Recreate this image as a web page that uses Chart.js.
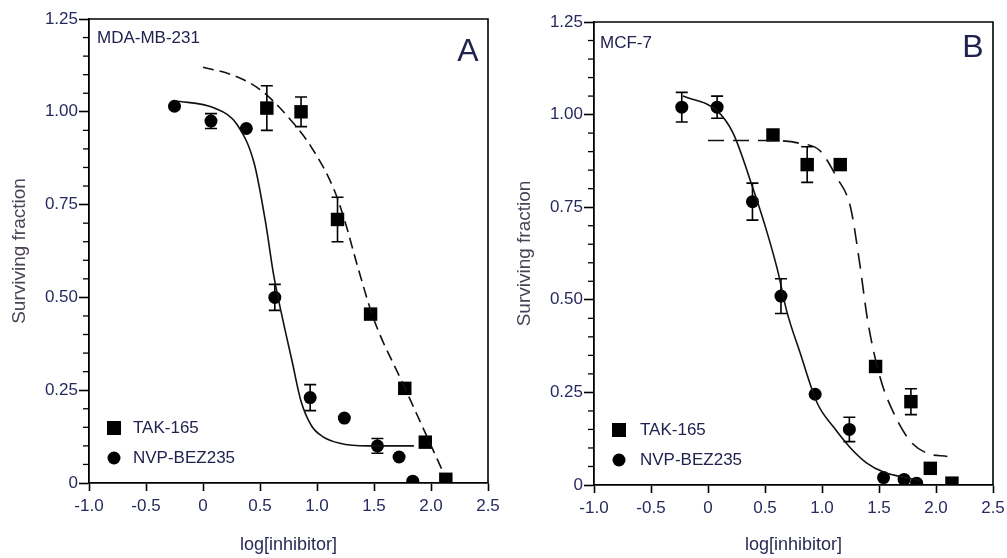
<!DOCTYPE html>
<html>
<head>
<meta charset="utf-8">
<script src="https://cdn.jsdelivr.net/npm/chart.js@4.4.1/dist/chart.umd.min.js"></script>
<style>
  html, body { margin: 0; padding: 0; background: #fff; overflow: hidden; }
  #wrap { position: relative; width: 1007px; height: 558px; overflow: hidden; }
  .panel { position: absolute; top: 0; height: 558px; }
  #panelA { left: 0; width: 520px; }
  #panelB { left: 500px; width: 527px; background: #fff; }
</style>
</head>
<body>
<div id="wrap">
  <div class="panel" id="panelA"><canvas id="chartA"></canvas></div>
  <div class="panel" id="panelB"><canvas id="chartB"></canvas></div>
</div>
<script>
// === axis ticks ===
const xTicks = [-1.0, -0.5, 0, 0.5, 1.0, 1.5, 2.0, 2.5];
const yTicks = [0, 0.25, 0.50, 0.75, 1.00, 1.25];

// === panel A : MDA-MB-231 ===
const aTakX = [0.56, 0.86, 1.18, 1.47, 1.77, 1.95, 2.13];
const aTakY = [1.01, 1.00, 0.71, 0.455, 0.255, 0.11, 0.01];
const aTakErr = [0.06, 0.04, 0.06, 0, 0, 0, 0];
const aBezX = [-0.25, 0.07, 0.38, 0.63, 0.94, 1.24, 1.53, 1.72, 1.84];
const aBezY = [1.015, 0.975, 0.955, 0.50, 0.23, 0.175, 0.10, 0.07, 0.005];
const aBezErr = [0, 0.02, 0, 0.035, 0.035, 0, 0.02, 0, 0];
// fitted curves
const aTakFitX = [0.0, 0.25, 0.5, 0.75, 0.95, 1.15, 1.25, 1.35, 1.5, 1.75, 1.95, 2.12];
const aTakFitY = [1.12, 1.10, 1.06, 0.985, 0.905, 0.79, 0.70, 0.59, 0.44, 0.27, 0.135, 0.02];
const aBezFitX = [-0.25, 0.1, 0.3, 0.45, 0.55, 0.62, 0.70, 0.78, 0.86, 0.95, 1.05, 1.2, 1.45, 1.85];
const aBezFitY = [1.03, 1.01, 0.965, 0.86, 0.70, 0.56, 0.44, 0.33, 0.22, 0.155, 0.125, 0.107, 0.10, 0.10];

// === panel B : MCF-7 ===
const bTakX = [0.57, 0.87, 1.16, 1.47, 1.78, 1.95, 2.14];
const bTakY = [0.945, 0.865, 0.865, 0.32, 0.225, 0.045, 0.005];
const bTakErr = [0, 0.048, 0, 0, 0.035, 0, 0];
const bBezX = [-0.23, 0.08, 0.39, 0.64, 0.94, 1.24, 1.54, 1.72, 1.83];
const bBezY = [1.02, 1.02, 0.765, 0.51, 0.245, 0.15, 0.02, 0.015, 0.005];
const bBezErr = [0.04, 0.03, 0.05, 0.047, 0, 0.033, 0, 0, 0];
const bTakFitX = [0.0, 0.57, 0.81, 0.98, 1.13, 1.25, 1.33, 1.40, 1.51, 1.62, 1.77, 1.92, 2.10];
const bTakFitY = [0.93, 0.93, 0.922, 0.903, 0.83, 0.75, 0.60, 0.445, 0.29, 0.20, 0.12, 0.086, 0.077];
const bBezFitX = [-0.22, 0.08, 0.22, 0.39, 0.52, 0.61, 0.69, 0.81, 0.96, 1.10, 1.25, 1.39, 1.54, 1.75, 1.86];
const bBezFitY = [1.05, 1.01, 0.95, 0.805, 0.68, 0.58, 0.47, 0.355, 0.22, 0.157, 0.10, 0.06, 0.035, 0.019, 0.013];

const legendNames = ["TAK-165", "NVP-BEZ235"];

const FONT = "'Liberation Sans', Arial, sans-serif";
const TICK_COLOR = "#262a5e";

function pts(xs, ys) {
  return xs.map((x, i) => ({ x: x, y: ys[i] }));
}

// error bars, minor ticks, frame, labels and legend
const extrasPlugin = {
  id: "extras",
  beforeDatasetsDraw(chart) {
    const ctx = chart.ctx;
    const ys = chart.scales.y;
    ctx.save();
    ctx.strokeStyle = "#000";
    ctx.lineWidth = 1.6;
    chart.data.datasets.forEach((ds, i) => {
      if (!ds.errors) return;
      const meta = chart.getDatasetMeta(i);
      meta.data.forEach((el, j) => {
        const e = ds.errors[j];
        if (!e) return;
        const v = ds.data[j].y;
        const top = ys.getPixelForValue(v + e);
        const bot = ys.getPixelForValue(v - e);
        ctx.beginPath();
        ctx.moveTo(el.x, top); ctx.lineTo(el.x, bot);
        ctx.moveTo(el.x - 6, top); ctx.lineTo(el.x + 6, top);
        ctx.moveTo(el.x - 6, bot); ctx.lineTo(el.x + 6, bot);
        ctx.stroke();
      });
    });
    ctx.restore();
  },
  afterDraw(chart, args, opts) {
    const ctx = chart.ctx;
    const a = chart.chartArea;
    const ys = chart.scales.y;
    ctx.save();
    // frame (top and right)
    ctx.strokeStyle = "#000";
    ctx.lineWidth = 1.6;
    ctx.beginPath();
    ctx.moveTo(a.left, a.top); ctx.lineTo(a.right, a.top); ctx.lineTo(a.right, a.bottom);
    ctx.stroke();
    // minor y ticks
    ctx.lineWidth = 1.3;
    for (let k = 0; k <= 25; k++) {
      if (k % 5 === 0) continue;
      const py = ys.getPixelForValue(k * 0.05);
      ctx.beginPath();
      ctx.moveTo(a.left - 6, py); ctx.lineTo(a.left, py);
      ctx.stroke();
    }
    // cell line name and panel letter
    ctx.fillStyle = "#222250";
    ctx.font = "17px " + FONT;
    ctx.textBaseline = "middle";
    ctx.textAlign = "left";
    ctx.fillText(opts.cell, a.left + opts.cellDx, a.top + opts.cellDy);
    ctx.font = "32px " + FONT;
    ctx.textAlign = "center";
    ctx.fillText(opts.letter, a.right - 20, a.top + opts.letterDy);
    // legend
    const lx = a.left + 25;
    const ly1 = a.bottom - 55, ly2 = a.bottom - 25;
    ctx.fillStyle = "#000";
    ctx.fillRect(lx - 7, ly1 - 7, 14, 14);
    ctx.beginPath();
    ctx.arc(lx, ly2, 6.5, 0, Math.PI * 2);
    ctx.fill();
    ctx.fillStyle = "#222250";
    ctx.font = "17px " + FONT;
    ctx.textAlign = "left";
    ctx.fillText(legendNames[0], a.left + opts.legDx, ly1);
    ctx.fillText(legendNames[1], a.left + opts.legDx, ly2);
    ctx.restore();
  }
};

function makeChart(id, p) {
  const ctx = document.getElementById(id).getContext("2d");
  return new Chart(ctx, {
    type: "scatter",
    data: {
      datasets: [
        {
          label: "TAK-165 fit",
          data: pts(p.takFitX, p.takFitY),
          showLine: true,
          borderColor: "#111",
          borderWidth: 1.6,
          borderDash: p.dash,
          pointRadius: 0,
          cubicInterpolationMode: "monotone"
        },
        {
          label: "NVP-BEZ235 fit",
          data: pts(p.bezFitX, p.bezFitY),
          showLine: true,
          borderColor: "#111",
          borderWidth: 1.6,
          pointRadius: 0,
          cubicInterpolationMode: "monotone"
        },
        {
          label: legendNames[0],
          data: pts(p.takX, p.takY),
          errors: p.takErr,
          pointStyle: "rect",
          pointRadius: 9.5,
          backgroundColor: "#000",
          borderColor: "#000",
          borderWidth: 0
        },
        {
          label: legendNames[1],
          data: pts(p.bezX, p.bezY),
          errors: p.bezErr,
          pointStyle: "circle",
          pointRadius: 6.5,
          backgroundColor: "#000",
          borderColor: "#000",
          borderWidth: 0
        }
      ]
    },
    options: {
      responsive: true,
      maintainAspectRatio: false,
      animation: false,
      layout: { padding: { top: p.padTop, right: p.padRight, left: 0, bottom: 0 } },
      plugins: {
        legend: { display: false },
        tooltip: { enabled: false },
        extras: p.extras
      },
      scales: {
        x: {
          type: "linear",
          min: -1, max: 2.5,
          afterBuildTicks: (s) => { s.ticks = xTicks.map(v => ({ value: v })); },
          afterFit: (s) => { s.height = p.xHeight; },
          grid: { drawOnChartArea: false, drawTicks: true, tickLength: 8, tickWidth: 1.6, tickColor: "#000" },
          border: { color: "#000", width: 1.8 },
          ticks: {
            color: TICK_COLOR,
            font: { family: FONT, size: 17 },
            padding: 5,
            maxRotation: 0,
            callback: (v) => v === 0 ? "0" : Number(v).toFixed(1)
          },
          title: {
            display: true,
            text: "log[inhibitor]",
            color: "#2a2a55",
            font: { family: FONT, size: 18 },
            padding: { top: 0, bottom: 2 }
          }
        },
        y: {
          type: "linear",
          min: 0, max: 1.25,
          afterBuildTicks: (s) => { s.ticks = yTicks.map(v => ({ value: v })); },
          afterFit: (s) => { s.width = p.yWidth; },
          grid: { drawOnChartArea: false, drawTicks: true, tickLength: 10, tickWidth: 1.6, tickColor: "#000" },
          border: { color: "#000", width: 1.8 },
          ticks: {
            color: TICK_COLOR,
            font: { family: FONT, size: 17 },
            padding: 1,
            callback: (v) => v === 0 ? "0" : Number(v).toFixed(2)
          },
          title: {
            display: true,
            text: "Surviving fraction",
            color: "#4b4258",
            font: { family: FONT, size: 19 },
            padding: { top: p.yTitlePad, bottom: 0 }
          }
        }
      }
    },
    plugins: [extrasPlugin]
  });
}

makeChart("chartA", {
  takX: aTakX, takY: aTakY, takErr: aTakErr,
  bezX: aBezX, bezY: aBezY, bezErr: aBezErr,
  takFitX: aTakFitX, takFitY: aTakFitY,
  bezFitX: aBezFitX, bezFitY: aBezFitY,
  dash: [11, 6],
  padTop: 19, padRight: 32, xHeight: 75, yWidth: 89, yTitlePad: 8,
  extras: { cell: "MDA-MB-231", letter: "A", cellDx: 8, cellDy: 19, letterDy: 33, legDx: 44 }
});

makeChart("chartB", {
  takX: bTakX, takY: bTakY, takErr: bTakErr,
  bezX: bBezX, bezY: bBezY, bezErr: bBezErr,
  takFitX: bTakFitX, takFitY: bTakFitY,
  bezFitX: bBezFitX, bezFitY: bBezFitY,
  dash: [16, 9],
  padTop: 22, padRight: 34, xHeight: 73, yWidth: 94, yTitlePad: 13,
  extras: { cell: "MCF-7", letter: "B", cellDx: 6, cellDy: 21, letterDy: 26, legDx: 46 }
});
</script>
</body>
</html>
